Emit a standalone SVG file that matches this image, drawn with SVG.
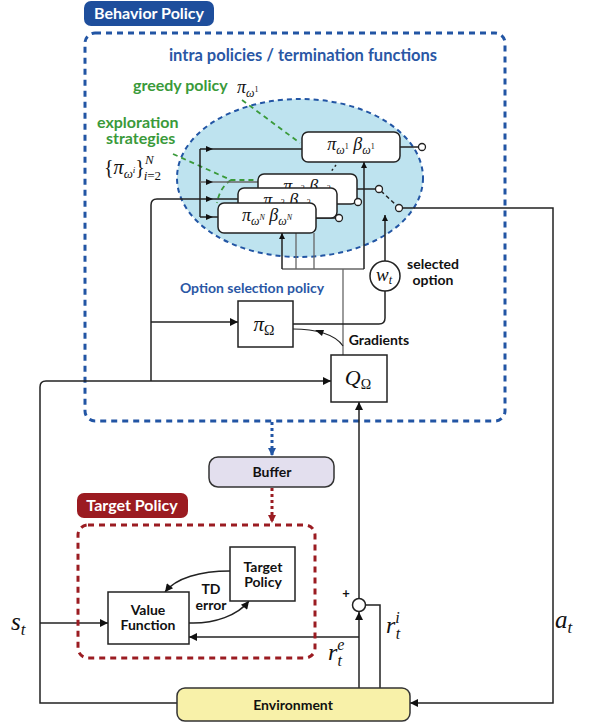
<svg xmlns="http://www.w3.org/2000/svg" width="590" height="726" viewBox="0 0 590 726">
<defs>
<style>
.ln{fill:none;stroke:#222;stroke-width:1.5}
.gl{fill:none;stroke:#666;stroke-width:1.3}
.bx{fill:#fff;stroke:#222;stroke-width:1.5}
.t{font-family:Lato,"Liberation Sans",sans-serif;font-weight:bold;font-size:14px;fill:#111;text-anchor:middle}
.lab{font-family:Lato,"Liberation Sans",sans-serif;font-weight:bold;font-size:16px;fill:#fff;text-anchor:middle}
.blu{font-family:Lato,"Liberation Sans",sans-serif;font-weight:bold;fill:#2A57A5}
.grn{font-family:Lato,"Liberation Sans",sans-serif;font-weight:bold;font-size:16px;fill:#3A9A3A}
.m{font-family:"Liberation Serif","DejaVu Serif",serif;font-style:italic;fill:#111}
.up{font-style:normal}
.pin{fill:#fff;stroke:#222;stroke-width:1.3}
.ah{fill:#111}
</style>
<marker id="a" viewBox="0 0 10 10" refX="10" refY="5" markerWidth="10" markerHeight="8" orient="auto" markerUnits="userSpaceOnUse"><path d="M0,0 L10,5 L0,10 z" fill="#111"/></marker>
<marker id="as" viewBox="0 0 10 10" refX="10" refY="5" markerWidth="7" markerHeight="6" orient="auto" markerUnits="userSpaceOnUse"><path d="M0,0 L10,5 L0,10 z" fill="#111"/></marker>
<marker id="ab" viewBox="0 0 10 10" refX="10" refY="5" markerWidth="8" markerHeight="8" orient="auto" markerUnits="userSpaceOnUse"><path d="M0,0 L10,5 L0,10 z" fill="#2255A4"/></marker>
<marker id="ar" viewBox="0 0 10 10" refX="10" refY="5" markerWidth="8" markerHeight="8" orient="auto" markerUnits="userSpaceOnUse"><path d="M0,0 L10,5 L0,10 z" fill="#9B1C22"/></marker>
</defs>

<g id="behavior-policy">
<rect x="85" y="33" width="420" height="388" rx="10" fill="none" stroke="#2255A4" stroke-width="3" stroke-dasharray="6 5"/>
<rect x="84" y="1" width="130" height="25" rx="7" fill="#1E4E9C"/>
<text class="lab" x="149" y="19">Behavior Policy</text>
<text class="blu" x="303" y="61" text-anchor="middle" style="font-size:16.5px">intra policies / termination functions</text>
</g>

<g id="option-ellipse">
<ellipse cx="300" cy="178" rx="123" ry="79" fill="#BEE3EF" stroke="#2255A4" stroke-width="2" stroke-dasharray="5 4"/>
</g>

<g id="labels-green">
<text class="grn" x="133" y="91">greedy policy</text>
<text class="m" x="237" y="93" style="font-size:18px">π<tspan dy="4" font-size="12">ω</tspan><tspan dy="-5" font-size="8" class="up">1</tspan></text>
<text class="grn" x="97" y="128">exploration</text>
<text class="grn" x="106" y="144">strategies</text>
<text class="m" x="104" y="174" style="font-size:20px"><tspan class="up">{</tspan>π<tspan dy="4" font-size="13">ω</tspan><tspan dy="-5" font-size="9">i</tspan><tspan dy="1" class="up">}</tspan><tspan dy="-10" font-size="13">N</tspan><tspan dx="-10" dy="16" font-size="13">i</tspan><tspan font-size="13" class="up">=2</tspan></text>
</g>

<g id="connectors">
<path d="M242,100 L300,143" fill="none" stroke="#3A9A3A" stroke-width="1.8" stroke-dasharray="5 4"/>
<path d="M173,154 L231,180 L257,180 M231,180 Q220,187 217,203" fill="none" stroke="#3A9A3A" stroke-width="1.8" stroke-dasharray="5 4"/>

<path class="ln" d="M200,149 V217"/>
<path class="ln" d="M200,149 H302"/>
<path class="gl" d="M200,182 H258"/>
<path class="ln" d="M151,381 V205 Q151,199 157,199 H238"/>
<path class="ln" d="M200,217 H218"/>
<path class="ah" d="M206,146 L213,149 L206,152 z"/>
<path class="ah" d="M206,179 L213,182 L206,185 z"/>
<path class="ah" d="M206,196 L213,199 L206,202 z"/>
<path class="ah" d="M206,214 L213,217 L206,220 z"/>

<path class="ln" d="M46,381 Q40,381 40,387 V703 H177"/>
<path class="ln" d="M46,381 H331" marker-end="url(#a)"/>
<path class="ln" d="M151,322 H238" marker-end="url(#a)"/>
<path class="ln" d="M40,623 H108" marker-end="url(#a)"/>

<path class="gl" d="M282,269 H364"/>
<path class="ln" d="M282,269 V233" marker-end="url(#as)"/>
<path class="gl" d="M296,269 V233"/>
<path class="gl" d="M314,269 V233"/>
<path class="ln" d="M364,269 V162" marker-end="url(#as)"/>
<path class="gl" d="M343,269 V355"/>
<path class="ln" d="M343,346 C335,334 315,329 293,329" style="stroke-width:1.2"/>
<path class="ah" d="M324,330 L315,330 L322,336 z"/>

<path class="ln" d="M293,324 H379 Q385,324 385,318 V291"/>
<path class="ln" d="M385,261 V215" marker-end="url(#as)"/>

<path class="ln" d="M400,147 H419"/>
<path class="ln" d="M357,189 H376"/>
<path class="ln" d="M337,202 H355"/>
<path class="ln" d="M316,218 H336"/>
<path class="ln" d="M381,191 L397,206" stroke-dasharray="4 3"/>
<path class="ln" d="M402,208 H553 V703 H410" marker-end="url(#a)"/>

<path class="ln" d="M359,688 V612" marker-end="url(#a)"/>
<path class="ln" d="M359,598 V402" marker-end="url(#a)"/>
<path class="ln" d="M359,637 H189" marker-end="url(#a)"/>
<path class="ln" d="M366,605 H380 V688"/>

<path d="M272,422 V456" fill="none" stroke="#2255A4" stroke-width="3" stroke-dasharray="3 3" marker-end="url(#ab)"/>
<path d="M272,488 V523" fill="none" stroke="#9B1C22" stroke-width="3" stroke-dasharray="3 3" marker-end="url(#ar)"/>

<path class="ln" d="M230,571 C200,571 176,578 165,592" marker-end="url(#a)"/>
<path class="ln" d="M189,623 C215,624 238,615 249,601" marker-end="url(#a)"/>
</g>

<g id="pi-box-2">
<rect class="bx" x="258" y="174" width="99" height="30" rx="6"/>
<text class="m" x="307" y="192" text-anchor="middle" style="font-size:18px">π<tspan dy="4" font-size="12">ω</tspan><tspan dy="-5" font-size="8" class="up">2</tspan><tspan dy="1"> β</tspan><tspan dy="4" font-size="12">ω</tspan><tspan dy="-5" font-size="8" class="up">2</tspan></text>
</g>
<g id="pi-box-3">
<rect class="bx" x="238" y="188" width="99" height="30" rx="6"/>
<text class="m" x="287" y="206" text-anchor="middle" style="font-size:18px">π<tspan dy="4" font-size="12">ω</tspan><tspan dy="-5" font-size="8" class="up">3</tspan><tspan dy="1"> β</tspan><tspan dy="4" font-size="12">ω</tspan><tspan dy="-5" font-size="8" class="up">3</tspan></text>
</g>
<g id="pi-box-N">
<rect class="bx" x="218" y="203" width="98" height="30" rx="6"/>
<text class="m" x="267" y="221" text-anchor="middle" style="font-size:18px">π<tspan dy="4" font-size="12">ω</tspan><tspan dy="-5" font-size="8">N</tspan><tspan dy="1"> β</tspan><tspan dy="4" font-size="12">ω</tspan><tspan dy="-5" font-size="8">N</tspan></text>
</g>
<g id="pi-box-1">
<rect class="bx" x="302" y="132" width="98" height="30" rx="6"/>
<text class="m" x="351" y="150" text-anchor="middle" style="font-size:18px">π<tspan dy="4" font-size="12">ω</tspan><tspan dy="-5" font-size="8" class="up">1</tspan><tspan dy="1"> β</tspan><tspan dy="4" font-size="12">ω</tspan><tspan dy="-5" font-size="8" class="up">1</tspan></text>
</g>
<path d="M336,165 L330,173" stroke="#222" stroke-width="1.5" stroke-dasharray="2 3"/>

<g id="pins">
<circle class="pin" cx="422" cy="147" r="3.5"/>
<circle class="pin" cx="379" cy="189" r="3.5"/>
<circle class="pin" cx="358" cy="202" r="3.5"/>
<circle class="pin" cx="339" cy="218" r="3.5"/>
<circle class="pin" cx="399" cy="208" r="3.5"/>
</g>

<g id="w-t">
<circle cx="385" cy="276" r="15" fill="#fff" stroke="#222" stroke-width="1.5"/>
<text class="m" x="384" y="281" text-anchor="middle" style="font-size:19px">w<tspan dy="3" font-size="12">t</tspan></text>
<text class="t" x="433" y="269">selected</text>
<text class="t" x="433" y="285">option</text>
</g>

<g id="pi-omega">
<text class="blu" x="252" y="293" text-anchor="middle" style="font-size:14px">Option selection policy</text>
<rect class="bx" x="238" y="301" width="55" height="46"/>
<text class="m" x="264" y="331" text-anchor="middle" style="font-size:21px">π<tspan dy="4" font-size="14" class="up">Ω</tspan></text>
</g>
<text class="t" x="379" y="345">Gradients</text>

<g id="q-omega">
<rect class="bx" x="331" y="355" width="56" height="47"/>
<text class="m" x="358" y="385" text-anchor="middle" style="font-size:22px">Q<tspan dy="4" font-size="14" class="up">Ω</tspan></text>
</g>

<g id="buffer">
<rect x="209" y="457" width="125" height="30" rx="9" fill="#E3DFEE" stroke="#333" stroke-width="1.5"/>
<text class="t" x="272" y="477">Buffer</text>
</g>

<g id="target-policy-group">
<rect x="78" y="525" width="237" height="133" rx="10" fill="none" stroke="#9B1C22" stroke-width="3" stroke-dasharray="6 5"/>
<rect x="77" y="493" width="111" height="25" rx="7" fill="#9B1B21"/>
<text class="lab" x="132" y="511">Target Policy</text>
</g>

<g id="value-function">
<rect class="bx" x="108" y="592" width="81" height="52"/>
<text class="t" x="148" y="615">Value</text>
<text class="t" x="148" y="630">Function</text>
</g>

<g id="target-policy">
<rect class="bx" x="230" y="547" width="65" height="54"/>
<text class="t" x="263" y="572">Target</text>
<text class="t" x="263" y="587">Policy</text>
</g>
<text class="t" x="211" y="594">TD</text>
<text class="t" x="211" y="610">error</text>

<g id="sum">
<circle cx="359" cy="605" r="6.5" fill="#fff" stroke="#222" stroke-width="1.5"/>
<text class="t" x="346" y="598" style="font-size:13px">+</text>
</g>

<g id="environment">
<rect x="177" y="688" width="233" height="33" rx="8" fill="#F8F1A9" stroke="#333" stroke-width="1.5"/>
<text class="t" x="293" y="710">Environment</text>
</g>

<g id="math-labels">
<text class="m" x="11" y="630" style="font-size:25px">s<tspan dy="5" font-size="17">t</tspan></text>
<text class="m" x="555" y="628" style="font-size:25px">a<tspan dy="5" font-size="17">t</tspan></text>
<text class="m" x="386" y="633" style="font-size:24px">r<tspan dy="-10" font-size="16">i</tspan><tspan dx="-4" dy="16" font-size="16">t</tspan></text>
<text class="m" x="328" y="660" style="font-size:24px">r<tspan dy="-10" font-size="16">e</tspan><tspan dx="-7" dy="16" font-size="16">t</tspan></text>
</g>
</svg>
